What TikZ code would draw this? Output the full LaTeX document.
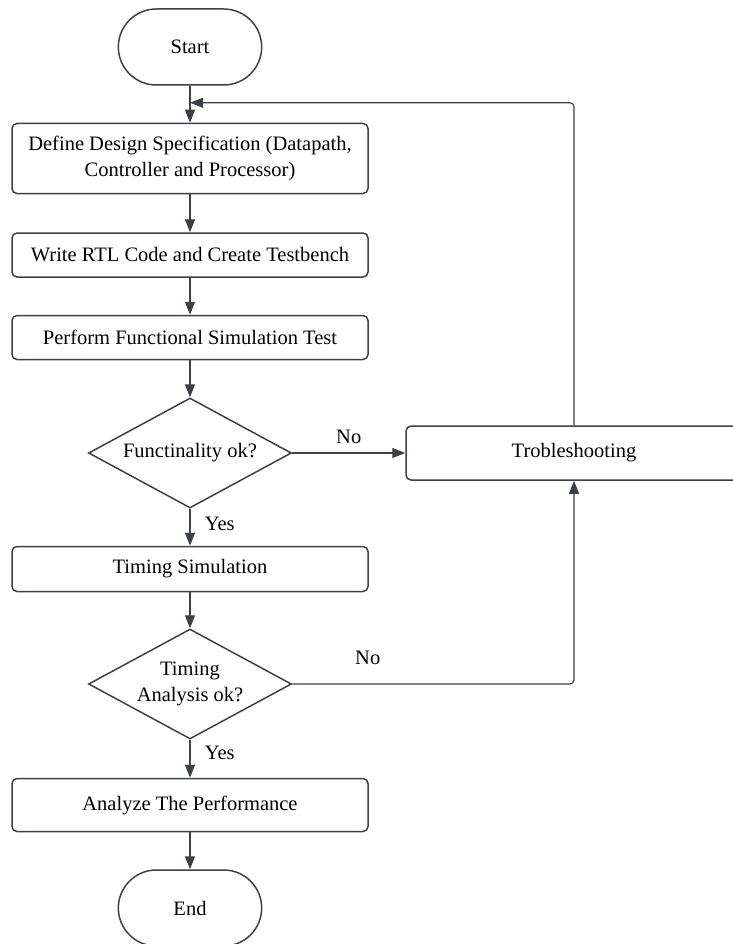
\documentclass[tikz,border=0pt]{standalone}
\usepackage{fontspec}
\setmainfont{Liberation Serif}
\usetikzlibrary{positioning, shapes, calc, arrows.meta}
\definecolor{edge}{HTML}{3B4049}

\begin{document}
\begin{tikzpicture}
        [
            x=1pt, y=1pt,
            font=\fontsize{20.5}{26}\selectfont,
            terminal/.style={rounded rectangle, draw=edge, line width=1.5pt,
                             minimum width=150pt, minimum height=76pt},
            process/.style={rectangle, rounded corners=5pt, draw=edge, line width=1.5pt,
                            minimum width=356pt, minimum height=#1, align=center},
            decision/.style={diamond, aspect=1.85, draw=edge, line width=1.5pt, inner sep=0pt,
                             minimum width=203pt, minimum height=110pt, align=center},
            flow/.style={draw=edge, line width=1.1pt, -{Triangle[width=10pt,length=13pt]}}
        ]
        \useasboundingbox (0,0) rectangle (732,-944);
        \node (start) [terminal] at (190,-47) {Start};
        \node (spec) [process=70pt, below=37pt of start] {Define Design Specification (Datapath,\\Controller and Processor)};
        \node (rtl) [process=44pt, below=38pt of spec] {Write RTL Code and Create Testbench};
        \node (funcsim) [process=44pt, below=37pt of rtl] {Perform Functional Simulation Test};
        \node (funcok) [decision, below=37pt of funcsim] {Functinality ok?};
        \node (timsim) [process=45pt, below=37pt of funcok] {Timing Simulation};
        \node (timok) [decision, below=36pt of timsim] {Timing\\Analysis ok?};
        \node (perf) [process=53pt, below=38pt of timok] {Analyze The Performance};
        \node (stop) [terminal, below=37pt of perf] {End};
        \node (trouble) [process=54pt, minimum width=336pt, right=113pt of funcok] {Trobleshooting};
        \coordinate (back) at ($(start.south)!0.46!(spec.north)$);
        \foreach \i/\j in {start/spec, spec/rtl, rtl/funcsim, funcsim/funcok, timsim/timok, perf/stop}
            \draw [flow] (\i.south) -- (\j.north);
        \draw [flow] (funcok.south) -- node [right=11pt, pos=0.4] {Yes} (timsim.north);
        \draw [flow] (timok.south) -- node [right=11pt, pos=0.35] {Yes} (perf.north);
        \draw [flow] (funcok.east) -- node [above=5pt] {No} (trouble.west);
        \draw [flow, rounded corners=4pt] (timok.east) -| node [pos=0.134, above=15pt] {No} (trouble.south);
        \draw [flow, rounded corners=4pt] (trouble.north) |- (back);
    \end{tikzpicture}
\end{document}
